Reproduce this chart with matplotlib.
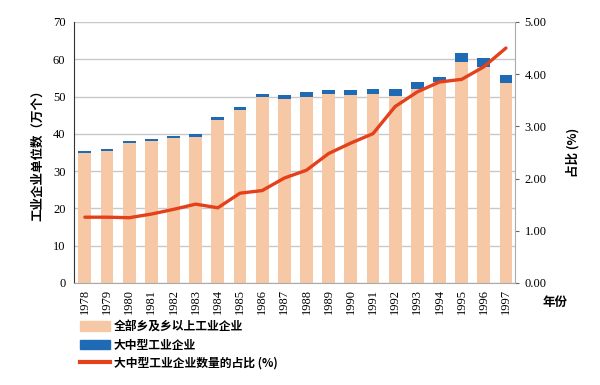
import matplotlib.pyplot as plt
import matplotlib.patches as mpatches
import matplotlib.lines as mlines
import numpy as np

plt.rcParams['font.family'] = ['Liberation Serif', 'Noto Sans CJK SC', 'DejaVu Sans']

years = [str(y) for y in range(1978, 1998)]
# 全部乡及乡以上工业企业 (万个)
total = [34.8, 35.5, 37.6, 38.1, 38.8, 39.1, 43.8, 46.4, 50.0, 49.3,
         50.0, 50.6, 50.5, 50.6, 50.2, 52.0, 53.8, 59.3, 58.0, 53.5]
# 大中型工业企业 (万个)
large = [0.6, 0.5, 0.6, 0.6, 0.7, 0.8, 0.7, 0.7, 0.8, 1.0,
         1.1, 1.2, 1.3, 1.3, 1.7, 2.0, 1.5, 2.3, 2.4, 2.4]
# 大中型工业企业数量的占比 (%)
share = [1.26, 1.26, 1.25, 1.32, 1.41, 1.51, 1.44, 1.72, 1.77, 2.01,
         2.16, 2.48, 2.68, 2.86, 3.38, 3.66, 3.85, 3.90, 4.14, 4.50]

peach = '#F6C8A6'
blue = '#1F6AB4'
red = '#E5401C'
cjk = ['Noto Sans CJK SC', 'DejaVu Sans']

fig = plt.figure(figsize=(6, 3.85), dpi=100)
ax = fig.add_axes([0.123, 0.265, 0.735, 0.678])
x = np.arange(len(years))

ax.bar(x, total, width=0.58, color=peach, zorder=2)
ax.bar(x, large, width=0.58, bottom=total, color=blue, zorder=2)
ax.set_xlim(-0.5, 19.4)
ax.set_ylim(0, 70)
ax.set_yticks(range(0, 71, 10))
ax.yaxis.grid(True, color='#C8C8C8', linewidth=1, zorder=0)
ax.set_xticks(x)
ax.set_xticklabels(years, rotation=90, fontsize=9)
ax.tick_params(axis='x', length=0, pad=4)
ax.tick_params(axis='y', labelsize=9, length=0, pad=6)
ax.spines['top'].set_visible(False)
ax.spines['right'].set_visible(False)
ax.spines['left'].set_color('#333333')
ax.spines['bottom'].set_color('#AAAAAA')
ax.set_ylabel('工业企业单位数（万个）', family=cjk, fontsize=9, fontweight='bold', labelpad=6)

ax2 = ax.twinx()
ax2.plot(x, share, color=red, linewidth=2.4, zorder=3, solid_capstyle='round')
ax2.set_ylim(0, 5)
ax2.set_yticks(np.arange(0, 5.01, 1))
ax2.set_yticklabels(['%.2f' % v for v in np.arange(0, 5.01, 1)], fontsize=9)
ax2.tick_params(axis='y', length=3, color='#666666', pad=4)
for s in ['top', 'left', 'bottom']:
    ax2.spines[s].set_visible(False)
ax2.spines['right'].set_color('#AAAAAA')
ax2.set_ylabel('占比 (%)', family=cjk, fontsize=9, fontweight='bold', labelpad=14)

fig.text(0.905, 0.215, '年份', family=cjk, fontsize=9, fontweight='bold', va='center')

handles = [mpatches.Patch(color=peach), mpatches.Patch(color=blue),
           mlines.Line2D([], [], color=red, linewidth=3)]
labels = ['全部乡及乡以上工业企业', '大中型工业企业', '大中型工业企业数量的占比 (%)']
fig.legend(handles, labels, loc='upper left', bbox_to_anchor=(0.133, 0.168),
           frameon=False, prop={'family': cjk, 'size': 8.5, 'weight': 'bold'},
           handlelength=2.6, handleheight=0.9, handletextpad=0.3,
           labelspacing=0.45, borderpad=0, borderaxespad=0)

fig.savefig('out.png', dpi=100)
